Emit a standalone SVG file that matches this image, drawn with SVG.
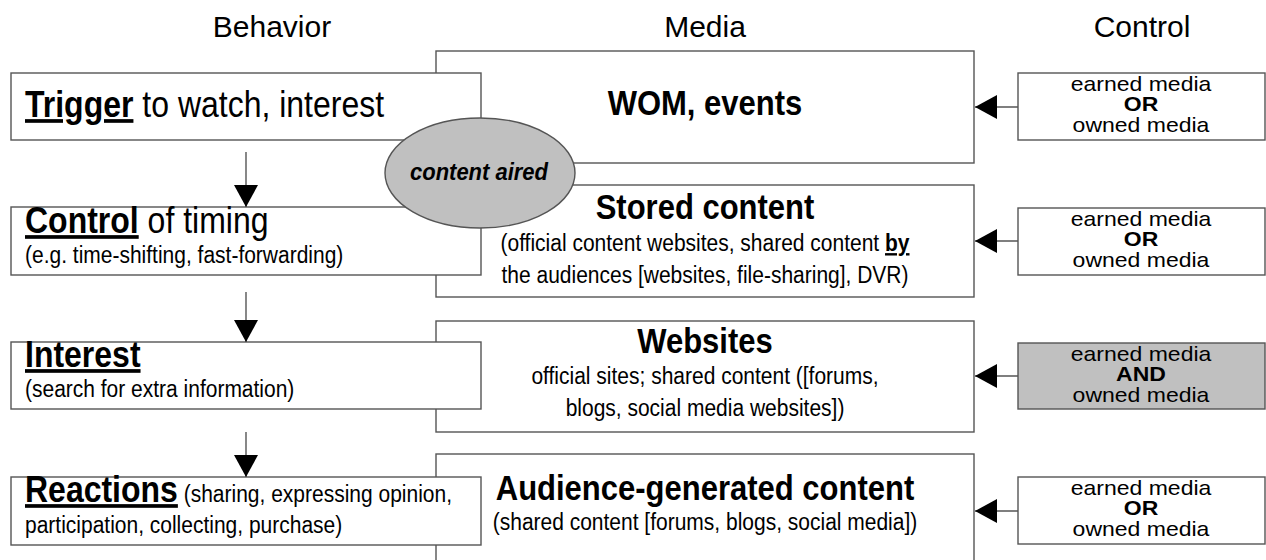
<svg xmlns="http://www.w3.org/2000/svg" width="1266" height="560" viewBox="0 0 1266 560">
<defs>
<style>
text{font-family:"Liberation Sans",Arial,sans-serif;fill:#000}
.box{fill:#fff;stroke:#555;stroke-width:1.4}
.gray{fill:#c0c0c0;stroke:#555;stroke-width:1.4}
.hdr{font-size:30px;text-anchor:middle}
.big{font-size:32px}
.b{font-weight:bold}
.u{text-decoration:underline}
.sm{font-size:21px}
.title{font-size:31px;font-weight:bold;text-anchor:middle}
.mid{text-anchor:middle}
.ctl{font-size:20px;text-anchor:middle}
.line{stroke:#555;stroke-width:1.4;fill:none}
</style>
<marker id="ah" markerWidth="22" markerHeight="24" refX="22" refY="12" orient="auto" markerUnits="userSpaceOnUse">
<path d="M0,0 L22,12 L0,24 Z" fill="#000"/>
</marker>
</defs>

<g id="headers">
<text class="hdr" x="272" y="37">Behavior</text>
<text class="hdr" x="705" y="37">Media</text>
<text class="hdr" x="1142" y="37">Control</text>
</g>

<g id="media-wom">
<rect class="box" x="436" y="51" width="538" height="112"/>
<text class="title" transform="translate(705 115) scale(1 1.14)">WOM, events</text>
</g>
<g id="media-stored">
<rect class="box" x="436" y="185" width="538" height="112"/>
<text class="title" transform="translate(705 219) scale(1 1.14)">Stored content</text>
<text class="sm mid" transform="translate(705 251) scale(1 1.14)">(official content websites, shared content <tspan class="b u">by</tspan></text>
<text class="sm mid" transform="translate(705 283) scale(1 1.14)">the audiences [websites, file-sharing], DVR)</text>
</g>
<g id="media-websites">
<rect class="box" x="436" y="321" width="538" height="111"/>
<text class="title" transform="translate(705 353) scale(1 1.14)">Websites</text>
<text class="sm mid" transform="translate(705 384) scale(1 1.14)">official sites; shared content ([forums,</text>
<text class="sm mid" transform="translate(705 416) scale(1 1.14)">blogs, social media websites])</text>
</g>
<g id="media-audience">
<rect class="box" x="436" y="454" width="538" height="115"/>
<text class="title" transform="translate(705 500) scale(1 1.14)">Audience-generated content</text>
<text class="sm mid" transform="translate(705 530) scale(1 1.14)">(shared content [forums, blogs, social media])</text>
</g>

<g id="behavior-trigger">
<rect class="box" x="11" y="73" width="470" height="67"/>
<text class="big" transform="translate(25 117) scale(1 1.15)"><tspan class="b u">Trigger</tspan> to watch, interest</text>
</g>
<g id="behavior-control">
<rect class="box" x="11" y="207" width="470" height="68"/>
<text class="big" transform="translate(25 233) scale(1 1.15)"><tspan class="b u">Control</tspan> of timing</text>
<text class="sm" transform="translate(25 263) scale(1 1.15)">(e.g. time-shifting, fast-forwarding)</text>
</g>
<g id="behavior-interest">
<rect class="box" x="11" y="342" width="470" height="67"/>
<text class="big b u" transform="translate(25 367) scale(1 1.15)">Interest</text>
<text class="sm" transform="translate(25 397) scale(1 1.15)">(search for extra information)</text>
</g>
<g id="behavior-reactions">
<rect class="box" x="11" y="477" width="470" height="68"/>
<text transform="translate(25 502) scale(1 1.15)"><tspan class="big b u">Reactions</tspan><tspan class="sm"> (sharing, expressing opinion,</tspan></text>
<text class="sm" transform="translate(25 533) scale(1 1.15)">participation, collecting, purchase)</text>
</g>

<g id="content-aired">
<ellipse cx="480" cy="173" rx="95" ry="55" fill="#c0c0c0" stroke="#555" stroke-width="1.4"/>
<text class="mid b" transform="translate(479 180) scale(1 1.1)" font-size="22" font-style="italic">content aired</text>
</g>

<g id="control-1">
<rect class="box" x="1018" y="73" width="247" height="67"/>
<text class="ctl" transform="translate(1141 91) scale(1.15 1)">earned media</text>
<text class="ctl b" transform="translate(1141 111) scale(1.15 1)">OR</text>
<text class="ctl" transform="translate(1141 132) scale(1.15 1)">owned media</text>
</g>
<g id="control-2">
<rect class="box" x="1018" y="208" width="247" height="67"/>
<text class="ctl" transform="translate(1141 226) scale(1.15 1)">earned media</text>
<text class="ctl b" transform="translate(1141 246) scale(1.15 1)">OR</text>
<text class="ctl" transform="translate(1141 267) scale(1.15 1)">owned media</text>
</g>
<g id="control-3">
<rect class="gray" x="1018" y="343" width="247" height="66"/>
<text class="ctl" transform="translate(1141 361) scale(1.15 1)">earned media</text>
<text class="ctl b" transform="translate(1141 381) scale(1.15 1)">AND</text>
<text class="ctl" transform="translate(1141 402) scale(1.15 1)">owned media</text>
</g>
<g id="control-4">
<rect class="box" x="1018" y="477" width="247" height="67"/>
<text class="ctl" transform="translate(1141 495) scale(1.15 1)">earned media</text>
<text class="ctl b" transform="translate(1141 515) scale(1.15 1)">OR</text>
<text class="ctl" transform="translate(1141 536) scale(1.15 1)">owned media</text>
</g>

<g id="connectors">
<line class="line" x1="246" y1="152" x2="246" y2="207" marker-end="url(#ah)"/>
<line class="line" x1="246" y1="292" x2="246" y2="342" marker-end="url(#ah)"/>
<line class="line" x1="246" y1="432" x2="246" y2="477" marker-end="url(#ah)"/>
<line class="line" x1="1018" y1="107" x2="975" y2="107" marker-end="url(#ah)"/>
<line class="line" x1="1018" y1="241" x2="975" y2="241" marker-end="url(#ah)"/>
<line class="line" x1="1018" y1="376" x2="975" y2="376" marker-end="url(#ah)"/>
<line class="line" x1="1018" y1="511" x2="975" y2="511" marker-end="url(#ah)"/>
</g>
</svg>
